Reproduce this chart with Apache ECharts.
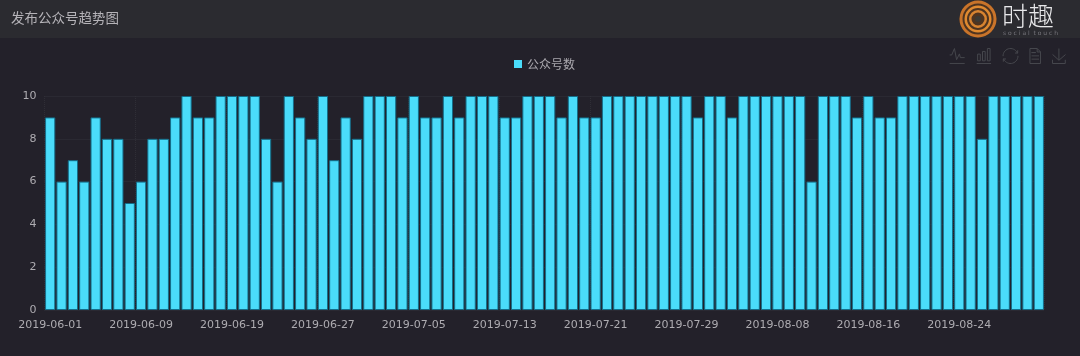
<!DOCTYPE html>
<html>
<head>
<meta charset="utf-8">
<style>
html,body{margin:0;padding:0;background:#23212a;}
#main{width:1080px;height:356px;}
</style>
<script src="https://cdn.jsdelivr.net/npm/echarts@6/dist/echarts.min.js"></script>
</head>
<body>
<div id="main"></div>
<script>
var titleText = '发布公众号趋势图';
var seriesName = '公众号数';
var june = ['06-01','06-02','06-03','06-04','06-05','06-06','06-07','06-08','06-09','06-11','06-12','06-13','06-14','06-15','06-16','06-17','06-19','06-20','06-21','06-22','06-23','06-24','06-25','06-26','06-27','06-28','06-29','06-30'];
var july = ['07-01','07-02','07-03','07-04','07-05','07-06','07-07','07-08','07-09','07-10','07-11','07-12','07-13','07-14','07-15','07-16','07-17','07-18','07-19','07-20','07-21','07-22','07-23','07-24','07-25','07-26','07-27','07-28','07-29','07-30','07-31'];
var august = ['08-01','08-02','08-03','08-05','08-06','08-08','08-09','08-10','08-11','08-12','08-13','08-14','08-15','08-16','08-17','08-18','08-19','08-20','08-21','08-22','08-23','08-24','08-25','08-26','08-27','08-28','08-29','08-30','08-31'];
var counts = [9,6,7,6,9,8,8,5,6,8,8,9,10,9,9,10,10,10,10,8,6,10,9,8,10,7,9,8,10,10,10,9,10,9,9,10,9,10,10,10,9,9,10,10,10,9,10,9,9,10,10,10,10,10,10,10,10,9,10,10,9,10,10,10,10,10,10,6,10,10,10,9,10,9,9,10,10,10,10,10,10,10,8,10,10,10,10,10];
var yTicks = {min: 0, max: 10, interval: 2};

var days = june.concat(july, august).map(function (d) { return '2019-' + d; });

var myChart = echarts.init(document.getElementById('main'));
var option = {
  backgroundColor: '#23212a',
  animation: false,
  title: {
    text: titleText,
    left: 6,
    top: 6,
    textStyle: { color: '#b5b3b8', fontSize: 13.5, fontWeight: 'normal', fontFamily: 'Noto Sans CJK SC' }
  },
  legend: {
    data: [seriesName],
    top: 53,
    left: 509,
    icon: 'rect',
    itemWidth: 8,
    itemHeight: 8,
    itemGap: 4,
    itemStyle: { borderWidth: 0 },
    textStyle: { color: '#aaa8ae', fontSize: 12, fontFamily: 'Noto Sans CJK SC' }
  },
  toolbox: {
    right: -3,
    top: 31,
    itemSize: 15,
    itemGap: 7,
    iconStyle: { borderColor: '#46474d', color: 'none' },
    feature: {
      magicType: { type: ['line', 'bar'] },
      restore: {},
      dataView: {},
      saveAsImage: {}
    }
  },
  grid: { left: 44.5, right: 35.5, top: 96, bottom: 46 },
  xAxis: {
    type: 'category',
    data: days,
    axisLine: { show: false },
    axisTick: { show: false },
    axisLabel: { interval: 7, color: '#aeacb1', fontSize: 11, margin: 10, fontFamily: 'DejaVu Sans' },
    splitLine: { show: true, interval: 7, lineStyle: { color: '#2f2e36', type: 'dotted' } }
  },
  yAxis: {
    type: 'value',
    min: yTicks.min,
    max: yTicks.max,
    interval: yTicks.interval,
    axisLine: { show: false },
    axisTick: { show: false },
    axisLabel: { color: '#aeacb1', fontSize: 11, margin: 8, fontFamily: 'DejaVu Sans' },
    splitLine: { lineStyle: { color: '#33323a', type: 'dotted' } }
  },
  series: [{
    name: seriesName,
    type: 'bar',
    data: counts,
    barCategoryGap: '10%',
    itemStyle: { color: '#4adcfa', borderColor: '#146e8a', borderWidth: 1 }
  }],
  graphic: [
    { type: 'rect', z: -1, shape: { x: 0, y: 0, width: 1080, height: 38 }, style: { fill: '#2b2b30' } },
    { type: 'circle', shape: { cx: 978, cy: 19, r: 18.5 }, style: { fill: '#4f3420' } },
    { type: 'ring', shape: { cx: 978, cy: 19, r: 18.5, r0: 15.5 }, style: { fill: '#c9742a' } },
    { type: 'ring', shape: { cx: 978, cy: 19, r: 13.5, r0: 11 }, style: { fill: '#e08a30' } },
    { type: 'ring', shape: { cx: 978, cy: 19, r: 9, r0: 6.5 }, style: { fill: '#d98430' } },
    { type: 'circle', shape: { cx: 978, cy: 19, r: 3 }, style: { fill: '#3d3a34' } },
    { type: 'text', left: 1002, top: 3, style: { text: '时趣', fill: '#e8e8ea', fontSize: 26, fontFamily: 'Noto Sans CJK SC', fontWeight: 200 } },
    { type: 'text', left: 1003, top: 30, style: { text: 's o c i a l  t o u c h', fill: '#77767c', fontSize: 6, fontFamily: 'DejaVu Sans' } }
  ]
};
myChart.setOption(option);
</script>
</body>
</html>
